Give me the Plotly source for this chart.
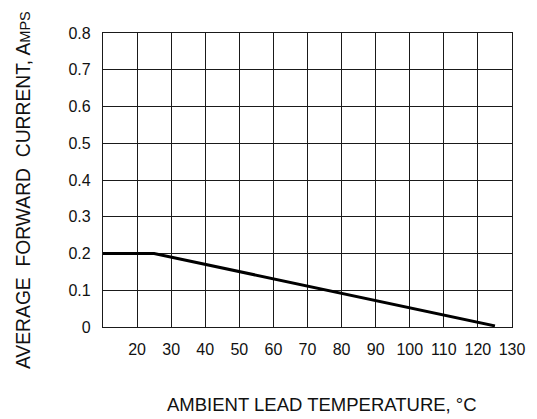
import plotly.graph_objects as go

# Data
temp_c = [10, 25, 125]
current_a = [0.2, 0.2, 0.003]

x_tickvals = [10, 20, 30, 40, 50, 60, 70, 80, 90, 100, 110, 120, 130]
x_ticktext = ["", "20", "30", "40", "50", "60", "70", "80", "90", "100", "110", "120", "130"]
y_tickvals = [0, 0.1, 0.2, 0.3, 0.4, 0.5, 0.6, 0.7, 0.8]
y_ticktext = ["0", "0.1", "0.2", "0.3", "0.4", "0.5", "0.6", "0.7", "0.8"]

x_title = "AMBIENT LEAD TEMPERATURE, °C"
y_title = "AVERAGE\u00a0\u00a0FORWARD\u00a0\u00a0CURRENT, A<span style='font-size:14.5px'>MPS</span>"

FONT = "Liberation Sans, Arial, sans-serif"

fig = go.Figure()
fig.add_trace(go.Scatter(x=temp_c, y=current_a, mode="lines",
                         line=dict(color="black", width=3), showlegend=False,
                         hoverinfo="skip"))

axis_common = dict(showgrid=True, gridcolor="#1a1a1a", gridwidth=1.3,
                   showline=True, linecolor="#1a1a1a", linewidth=1.3, mirror=True,
                   ticks="outside", ticklen=8, tickcolor="rgba(0,0,0,0)",
                   zeroline=False, tickfont=dict(size=16, family=FONT, color="#111"))

fig.update_layout(
    width=537, height=419,
    margin=dict(l=103, r=14, t=33, b=92),
    paper_bgcolor="white", plot_bgcolor="white",
    font=dict(family=FONT, size=16, color="#111"),
    xaxis=dict(range=[10, 130], tickmode="array", tickvals=x_tickvals, ticktext=x_ticktext,
               **axis_common),
    yaxis=dict(range=[0, 0.8], tickmode="array", tickvals=y_tickvals, ticktext=y_ticktext,
               **axis_common),
    annotations=[
        dict(text=x_title, xref="paper", yref="paper", x=0.5345, y=-0.265,
             xanchor="center", yanchor="middle", showarrow=False,
             font=dict(size=18.5, family=FONT, color="#111")),
        dict(text=y_title, xref="paper", yref="paper", x=-0.193, y=0.466,
             xanchor="center", yanchor="middle", showarrow=False, textangle=-90,
             font=dict(size=19.3, family=FONT, color="#111")),
    ],
)

fig.write_html("out.html", config={"displayModeBar": False},
               post_script="document.body.style.margin='0px';")
